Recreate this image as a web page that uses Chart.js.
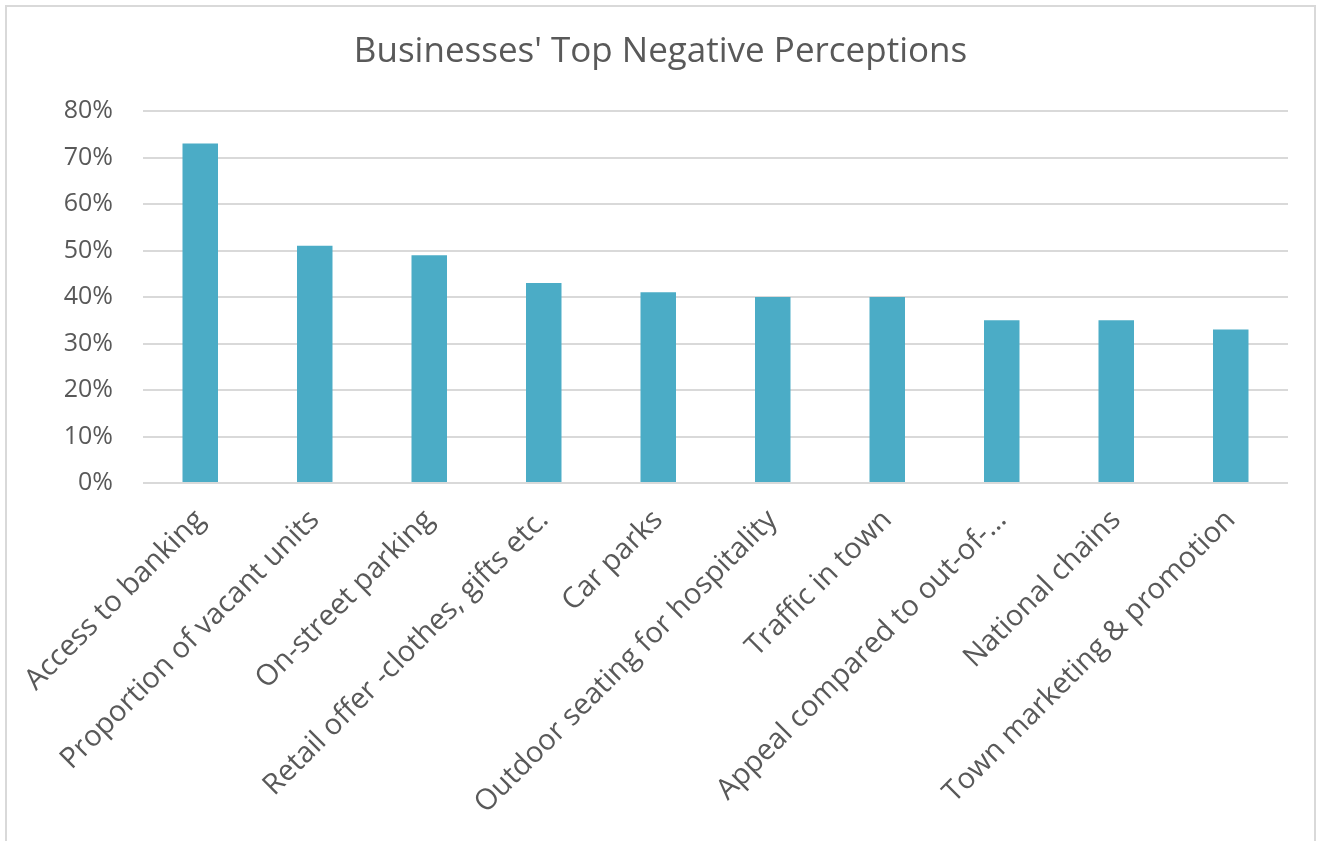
<!DOCTYPE html>
<html>
<head>
<meta charset="utf-8">
<title>Businesses' Top Negative Perceptions</title>
<script src="https://cdn.jsdelivr.net/npm/chart.js@4/dist/chart.umd.min.js"></script>
<style>
  html, body { margin: 0; padding: 0; background: #fff; overflow: hidden; }
  #frame {
    position: absolute; left: 5px; top: 5px; width: 1311px; height: 850px;
    border: 2px solid #d9d9d9; box-sizing: border-box;
  }
  #wrap { position: absolute; left: 0; top: 0; width: 1321px; height: 841px; }
</style>
</head>
<body>
<div id="frame"></div>
<div id="wrap"><canvas id="perceptionsChart"></canvas></div>
<script>
// Chart data
const categories = [
  'Access to banking',
  'Proportion of vacant units',
  'On-street parking',
  'Retail offer -clothes, gifts etc.',
  'Car parks',
  'Outdoor seating for hospitality',
  'Traffic in town',
  'Appeal compared to out-of-…',
  'National chains',
  'Town marketing & promotion'
];
const percentValues = [73, 51, 49, 43, 41, 40, 40, 35, 35, 33];
const yTicks = [0, 10, 20, 30, 40, 50, 60, 70, 80];

const textColor = '#595959';
const gridColor = '#d9d9d9';
const fontFamily = "'Open Sans', 'Noto Sans', sans-serif";

const ctx = document.getElementById('perceptionsChart').getContext('2d');

new Chart(ctx, {
  type: 'bar',
  data: {
    labels: categories,
    datasets: [{
      label: 'Businesses',
      data: percentValues,
      backgroundColor: '#4bacc6',
      borderWidth: 0,
      barPercentage: 0.31,
      categoryPercentage: 1
    }]
  },
  options: {
    responsive: true,
    maintainAspectRatio: false,
    animation: false,
    layout: { padding: 0 },
    plugins: {
      legend: { display: false },
      tooltip: { enabled: false },
      title: {
        display: true,
        text: "Businesses' Top Negative Perceptions",
        color: textColor,
        font: { family: fontFamily, size: 35, weight: 'normal' },
        padding: { top: 31, bottom: 38 }
      }
    },
    scales: {
      x: {
        grid: { display: false },
        border: { display: false },
        ticks: {
          color: textColor,
          font: { family: fontFamily, size: 29 },
          minRotation: 45,
          maxRotation: 45,
          autoSkip: false,
          padding: 12
        },
        afterFit: (axis) => { axis.height = 841 - 483; }
      },
      y: {
        min: yTicks[0],
        max: yTicks[yTicks.length - 1],
        afterBuildTicks: (axis) => { axis.ticks = yTicks.map(v => ({ value: v })); },
        grid: { color: gridColor, lineWidth: 2, drawTicks: false },
        border: { display: false },
        ticks: {
          color: textColor,
          font: { family: fontFamily, size: 25 },
          padding: 30,
          callback: (val) => `${val}%`
        },
        afterFit: (axis) => { axis.width = 143; }
      },
      // empty right-hand spacer so the title stays centred on the whole canvas
      spacer: {
        type: 'linear',
        position: 'right',
        grid: { display: false },
        border: { display: false },
        ticks: { display: false },
        afterFit: (axis) => { axis.width = 33; }
      }
    }
  }
});
</script>
</body>
</html>
